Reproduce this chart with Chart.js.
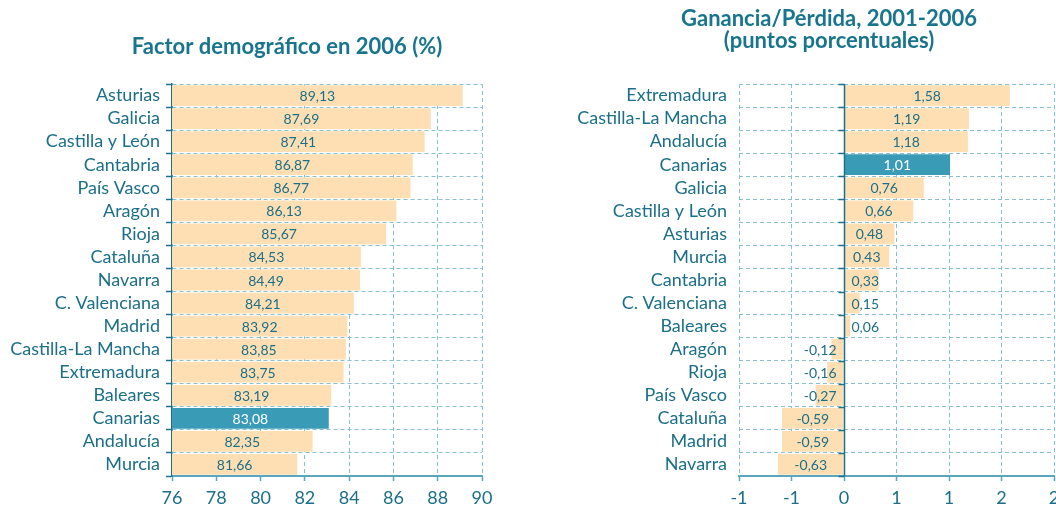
<!DOCTYPE html>
<html><head><meta charset="utf-8">
<script src="https://cdn.jsdelivr.net/npm/chart.js@4"></script>
<style>
html,body{margin:0;padding:0;background:#fff;overflow:hidden;width:1056px;height:506px;}
.wrap{position:absolute;top:0;width:528px;height:506px;}
canvas{display:block;}
</style></head><body>
<div class="wrap" style="left:0"><canvas id="c1" width="528" height="506"></canvas></div>
<div class="wrap" style="left:528px"><canvas id="c2" width="528" height="506"></canvas></div>
<script>
// ---- data ----
const leftTitle = 'Factor demográfico en 2006 (%)';
const leftCategories = ['Asturias','Galicia','Castilla y León','Cantabria','País Vasco','Aragón','Rioja','Cataluña','Navarra','C. Valenciana','Madrid','Castilla-La Mancha','Extremadura','Baleares','Canarias','Andalucía','Murcia'];
const leftValues = [89.13,87.69,87.41,86.87,86.77,86.13,85.67,84.53,84.49,84.21,83.92,83.85,83.75,83.19,83.08,82.35,81.66];
const leftTickValues = [76,78,80,82,84,86,88,90];
const leftTickLabels = ['76','78','80','82','84','86','88','90'];

const rightTitle = ['Ganancia/Pérdida, 2001-2006','(puntos porcentuales)'];
const rightCategories = ['Extremadura','Castilla-La Mancha','Andalucía','Canarias','Galicia','Castilla y León','Asturias','Murcia','Cantabria','C. Valenciana','Baleares','Aragón','Rioja','País Vasco','Cataluña','Madrid','Navarra'];
const rightValues = [1.58,1.19,1.18,1.01,0.76,0.66,0.48,0.43,0.33,0.15,0.06,-0.12,-0.16,-0.27,-0.59,-0.59,-0.63];
const rightTickValues = [-1,-0.5,0,0.5,1,1.5,2];
const rightTickLabels = ['-1','-1','0','1','1','2','2'];

const highlightCategory = 'Canarias';

// ---- styles ----
const FONT = 'Lato';
const PEACH = '#FDDFB3';
const TEAL = '#3A9BB6';
const TEXT = '#1B6F88';
const TITLE = '#18758D';
const GRID = '#86C0D2';
const AXIS_DARK = '#1F7088';
const AXIS_BOTTOM = '#5AA6BC';
const DASH = [4,3];

Chart.defaults.font.family = FONT;
Chart.defaults.color = TEXT;

const barLabels = {
  id: 'barLabels',
  afterDatasetsDraw(chart, args, opts) {
    const ctx = chart.ctx;
    const area = chart.chartArea;
    const meta = chart.getDatasetMeta(0);
    const ds = chart.data.datasets[0];
    const cats = chart.data.labels;
    ctx.save();
    ctx.font = '14px ' + FONT;
    ctx.textAlign = 'center';
    ctx.textBaseline = 'middle';
    meta.data.forEach((bar, i) => {
      const v = ds.data[i];
      const txt = v.toFixed(2).replace('.', ',');
      const w = ctx.measureText(txt).width;
      const base = Math.min(Math.max(bar.base, area.left), area.right);
      let cx = (bar.x + base) / 2;
      if (v >= 0) cx = Math.max(cx, base + opts.inset + w / 2);
      else cx = Math.min(cx, base - opts.inset - w / 2);
      ctx.fillStyle = cats[i] === highlightCategory ? '#ffffff' : TEXT;
      ctx.fillText(txt, cx, bar.y + 1);
    });
    ctx.restore();
  }
};

const zeroLine = {
  id: 'zeroLine',
  afterDatasetsDraw(chart, args, opts) {
    if (!opts.enabled) return;
    const ctx = chart.ctx;
    const xs = chart.scales.x, ys = chart.scales.y;
    const x0 = Math.round(xs.getPixelForValue(0)) + 0.5;
    const area = chart.chartArea;
    ctx.save();
    ctx.strokeStyle = AXIS_DARK;
    ctx.lineWidth = 1.5;
    ctx.beginPath();
    ctx.moveTo(x0, area.top);
    ctx.lineTo(x0, area.bottom);
    const n = chart.data.labels.length;
    for (let k = 0; k <= n; k++) {
      const y = Math.round(ys.getPixelForValue(k - 0.5)) + 0.5;
      ctx.moveTo(x0 - 6, y);
      ctx.lineTo(x0, y);
    }
    ctx.stroke();
    ctx.restore();
  }
};

// centre the title block on a chosen x inside the canvas
const titlePlace = {
  id: 'titlePlace',
  afterLayout(chart, args, opts) {
    const t = chart.titleBlock;
    if (!t) return;
    const half = opts.halfWidth;
    t.left = opts.center - half;
    t.right = opts.center + half;
    t.width = half * 2;
  }
};

function makeChart(id, cats, vals, tickVals, tickLabels, title, cfg) {
  return new Chart(document.getElementById(id), {
    type: 'bar',
    data: {
      labels: cats,
      datasets: [{
        data: vals,
        backgroundColor: cats.map(c => c === highlightCategory ? TEAL : PEACH),
        borderWidth: 0,
        barPercentage: 0.9,
        categoryPercentage: 1.0
      }]
    },
    plugins: [barLabels, zeroLine, titlePlace],
    options: {
      indexAxis: 'y',
      responsive: false,
      animation: false,
      devicePixelRatio: 1,
      layout: { padding: { left: 0, right: cfg.padRight, top: 0, bottom: 0 } },
      plugins: {
        legend: { display: false },
        tooltip: { enabled: false },
        title: {
          display: true,
          text: title,
          color: TITLE,
          font: { family: FONT, size: 22, weight: 'bold', lineHeight: cfg.titleLH },
          padding: { top: cfg.titleTop, bottom: cfg.titleBottom }
        },
        titlePlace: { center: cfg.titleCenter, halfWidth: 260 },
        barLabels: { inset: 7 },
        zeroLine: { enabled: cfg.zero }
      },
      scales: {
        x: {
          type: 'linear',
          min: tickVals[0],
          max: tickVals[tickVals.length - 1],
          afterBuildTicks: s => { s.ticks = tickVals.map(v => ({ value: v })); },
          afterFit: s => { s.height = 30; s.paddingLeft = 0; s.paddingRight = 0; },
          ticks: {
            color: TEXT,
            font: { size: 18 },
            padding: 6,
            maxRotation: 0,
            autoSkip: false,
            callback: (v, i) => tickLabels[i]
          },
          grid: {
            color: GRID,
            lineWidth: 1,
            tickColor: AXIS_BOTTOM,
            tickLength: 5,
            tickWidth: 1.5,
            tickBorderDash: []
          },
          border: { display: true, color: AXIS_BOTTOM, width: 2, dash: DASH }
        },
        y: {
          type: 'category',
          afterFit: s => { s.width = cfg.yWidth; s.paddingTop = 0; s.paddingBottom = 0; },
          ticks: { color: TEXT, font: { size: 18 }, padding: cfg.yPad, autoSkip: false },
          grid: {
            color: GRID,
            lineWidth: 1,
            offset: true,
            drawTicks: cfg.yTicks,
            tickColor: AXIS_DARK,
            tickLength: 6,
            tickWidth: 1.5,
            tickBorderDash: []
          },
          border: { display: cfg.yBorder, color: AXIS_DARK, width: 1.5, dash: DASH }
        }
      }
    }
  });
}

makeChart('c1', leftCategories, leftValues, leftTickValues, leftTickLabels, leftTitle, {
  padRight: 46, yWidth: 172, yPad: 6, yTicks: true, yBorder: true, zero: false,
  titleLH: 1.2, titleTop: 34, titleBottom: 23.6, titleCenter: 287
});
makeChart('c2', rightCategories, rightValues, rightTickValues, rightTickLabels, rightTitle, {
  padRight: 2, yWidth: 211, yPad: 12, yTicks: false, yBorder: false, zero: true,
  titleLH: '22px', titleTop: 8, titleBottom: 32, titleCenter: 301
});
</script>
</body></html>
